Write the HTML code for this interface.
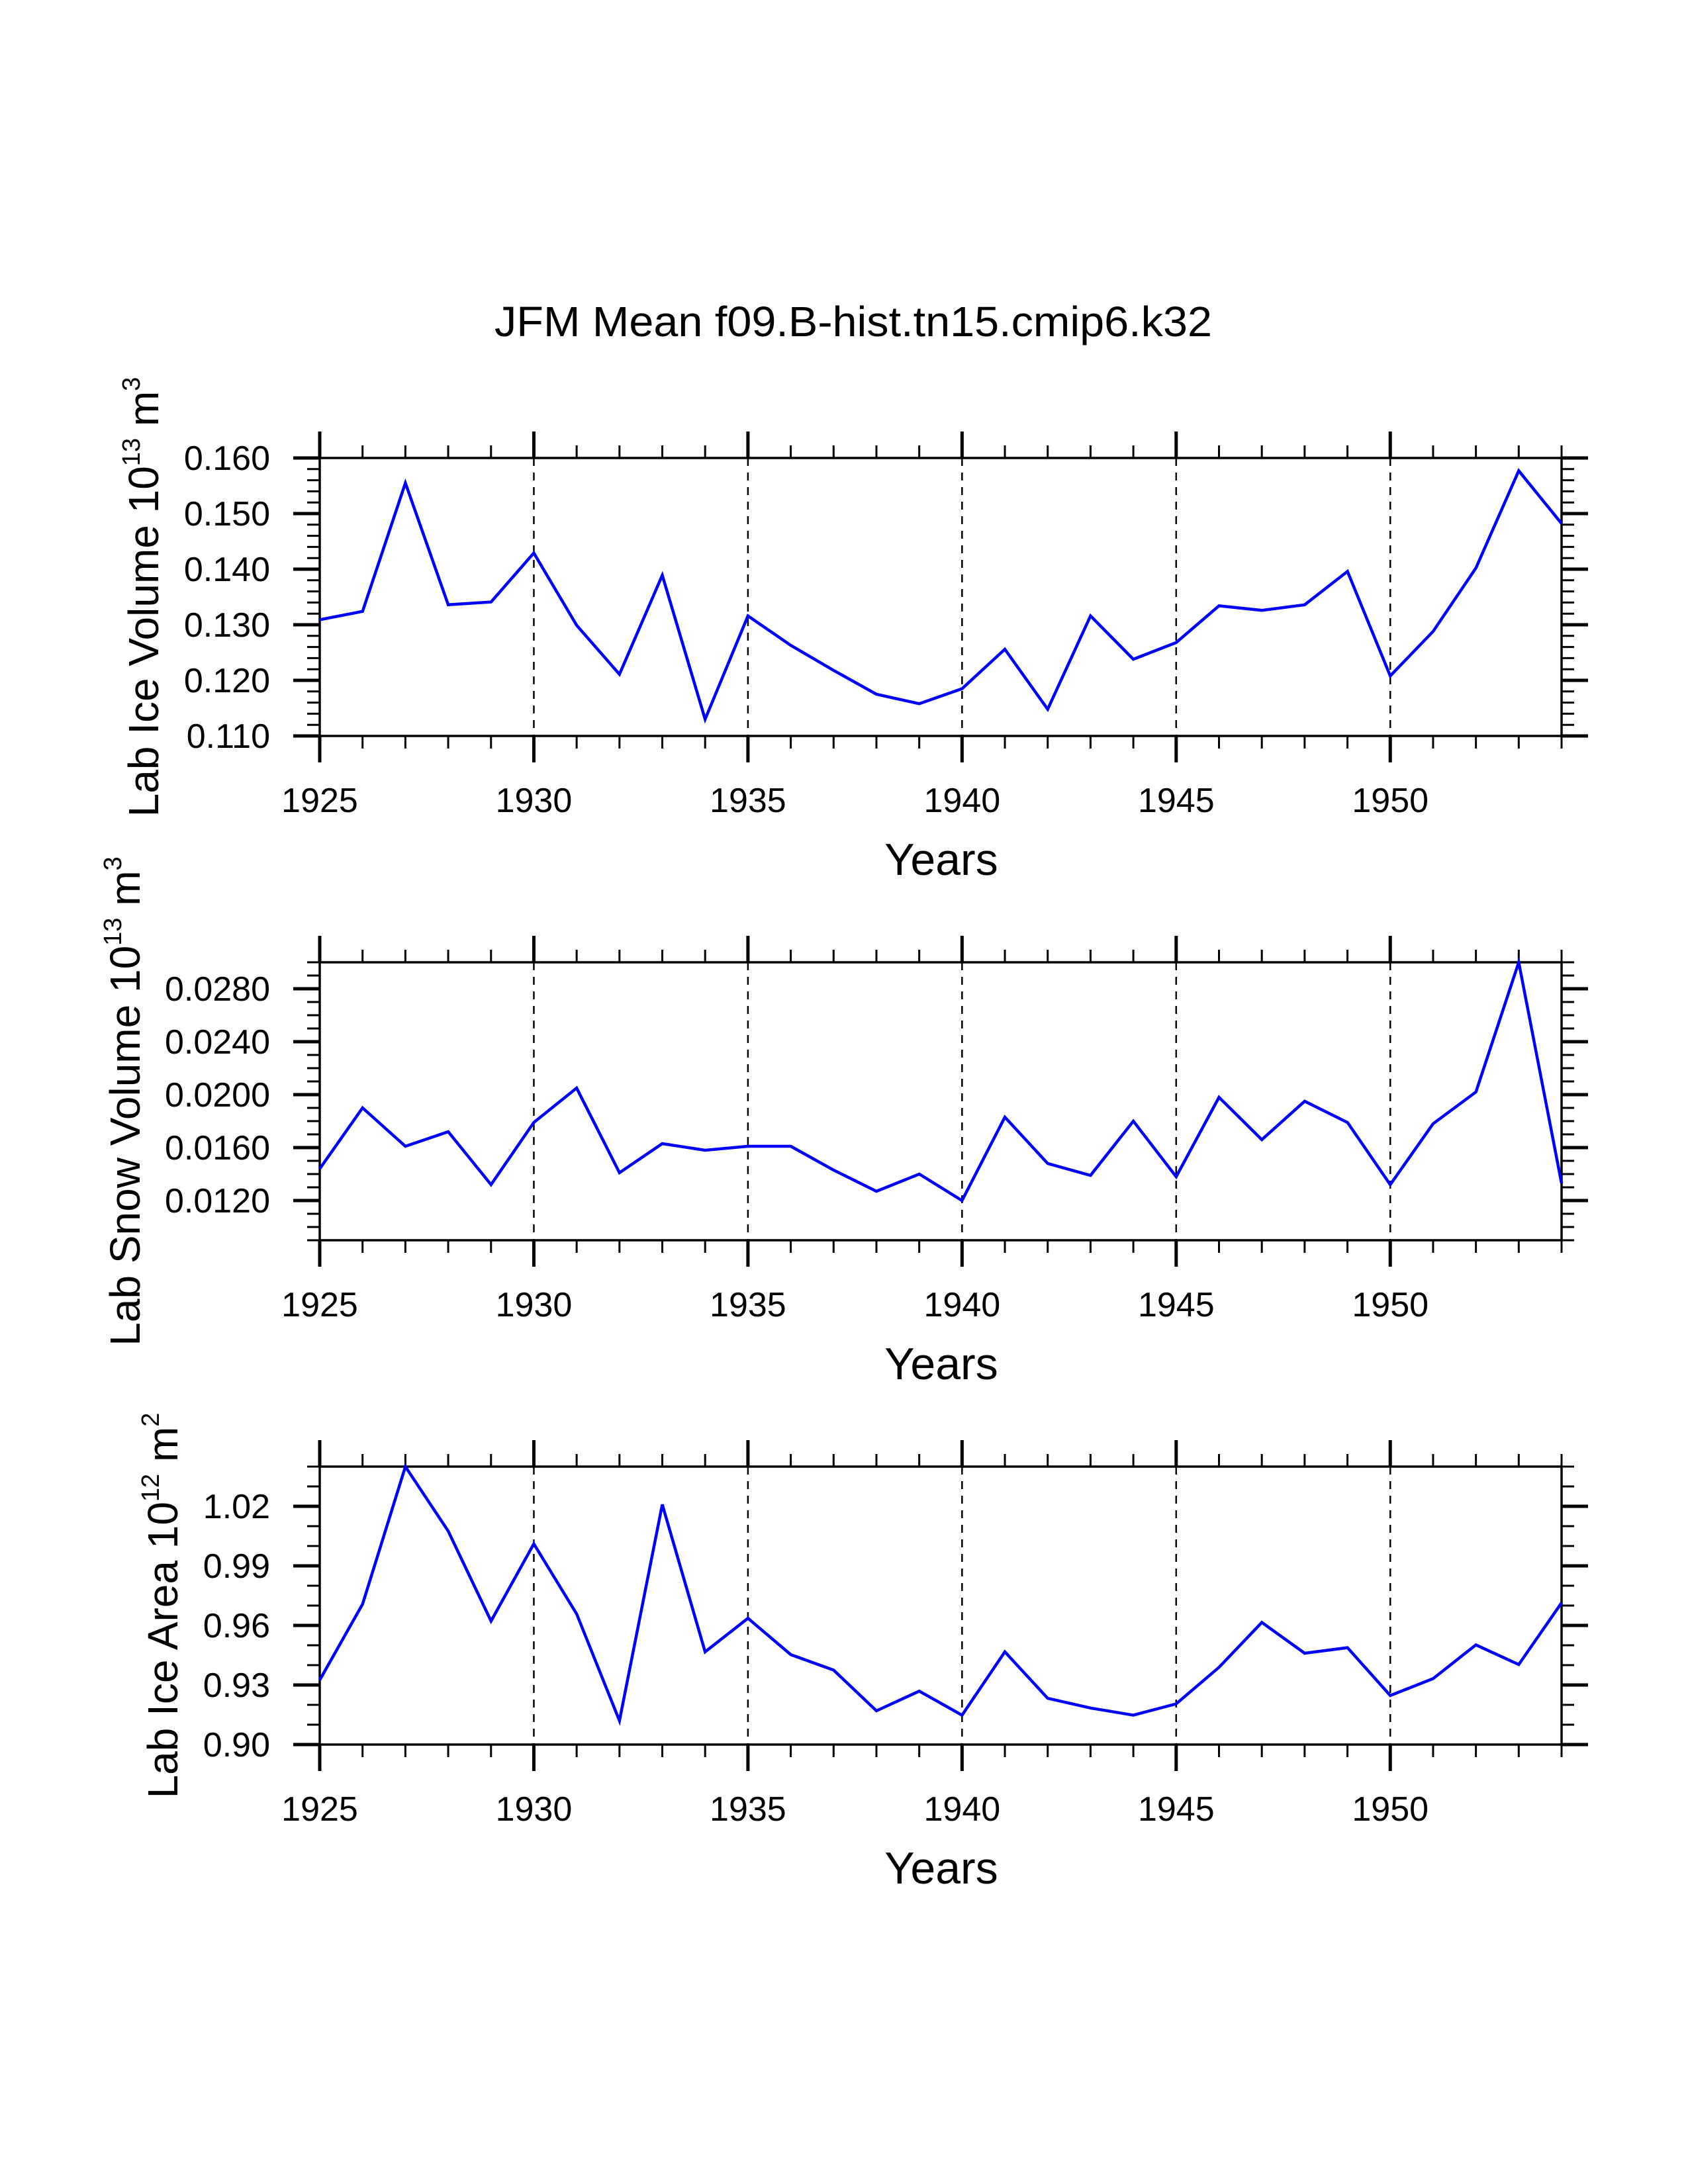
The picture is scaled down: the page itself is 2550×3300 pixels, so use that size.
<!DOCTYPE html>
<html><head><meta charset="utf-8"><style>
html,body{margin:0;padding:0;background:#fff;}
svg{display:block;font-family:"Liberation Sans",Arial,sans-serif;}
</style></head>
<body>
<svg id="fig" width="2550" height="3300" viewBox="0 0 2550 3300" xmlns="http://www.w3.org/2000/svg">
<rect width="2550" height="3300" fill="#fff"/>
<text x="1289" y="508" font-size="64" text-anchor="middle" textLength="1084" lengthAdjust="spacingAndGlyphs">JFM Mean f09.B-hist.tn15.cmip6.k32</text>
</svg>
<script>
const years = [1925,1926,1927,1928,1929,1930,1931,1932,1933,1934,1935,1936,1937,1938,1939,1940,1941,1942,1943,1944,1945,1946,1947,1948,1949,1950,1951,1952,1953,1954];
const iceVolume = [0.1309,0.1324,0.1555,0.1336,0.1341,0.1429,0.1299,0.1211,0.1389,0.1130,0.1316,0.1263,0.1218,0.1175,0.1158,0.1185,0.1256,0.1148,0.1316,0.1238,0.1268,0.1334,0.1326,0.1336,0.1396,0.1208,0.1288,0.1402,0.1577,0.1482];
const snowVolume = [0.0144,0.0190,0.0161,0.0172,0.0132,0.0179,0.0205,0.0141,0.0163,0.0158,0.0161,0.0161,0.0143,0.0127,0.0140,0.0120,0.0183,0.0148,0.0139,0.0180,0.0138,0.0198,0.0166,0.0195,0.0179,0.0132,0.0178,0.0202,0.0300,0.0133];
const iceArea = [0.9325,0.9707,1.040,1.0075,0.9622,1.0011,0.9658,0.9120,1.0209,0.9467,0.9636,0.9453,0.9375,0.9170,0.9269,0.9148,0.9467,0.9233,0.9184,0.9148,0.9205,0.9389,0.9615,0.9460,0.9488,0.9247,0.9332,0.9502,0.9403,0.9714];
const xTickLabels = ["1925","1930","1935","1940","1945","1950"];
const iceVolTicks = ["0.110","0.120","0.130","0.140","0.150","0.160"];
const snowVolTicks = ["0.0120","0.0160","0.0200","0.0240","0.0280"];
const iceAreaTicks = ["0.90","0.93","0.96","0.99","1.02"];

const NS="http://www.w3.org/2000/svg";
const svg=document.getElementById('fig');
function mk(tag,attrs,parent){const e=document.createElementNS(NS,tag);for(const k in attrs)e.setAttribute(k,attrs[k]);(parent||svg).appendChild(e);return e;}

const L=483,R=2359,H=420;
const panels=[
 {name:'ice-volume',top:692,vals:iceVolume,ticks:iceVolTicks,ymin:0.110,ymax:0.160,minor:0.002,label:['Lab Ice Volume 10','13',' m','3']},
 {name:'snow-volume',top:1454,vals:snowVolume,ticks:snowVolTicks,ymin:0.009,ymax:0.030,minor:0.001,label:['Lab Snow Volume 10','13',' m','3']},
 {name:'ice-area',top:2216,vals:iceArea,ticks:iceAreaTicks,ymin:0.90,ymax:1.04,minor:0.01,label:['Lab Ice Area 10','12',' m','2']}
];
const x0=years[0],x1=years[years.length-1];
function xs(v){return L+(v-x0)/(x1-x0)*(R-L);}

panels.forEach((p,pi)=>{
 const T=p.top,B=T+H;
 const ys=v=>B-(v-p.ymin)/(p.ymax-p.ymin)*H;
 const g=mk('g',{});
 
 
 xTickLabels.forEach(t=>{const v=+t;if(v===x0)return;
  const l=mk('line',{x1:xs(v),x2:xs(v),y1:T,y2:B,stroke:'#000','stroke-width':2.5,'stroke-dasharray':'12 10'},g);
  
  
 });
 for(let y=x0;y<=x1;y++){
  const maj=(y%5===0);const len=maj?40:19;const sw=maj?5:3;
  mk('line',{x1:xs(y),x2:xs(y),y1:B,y2:B+len,stroke:'#000','stroke-width':sw},g);
  mk('line',{x1:xs(y),x2:xs(y),y1:T,y2:T-len,stroke:'#000','stroke-width':sw},g);
 }
 xTickLabels.forEach(t=>{
  const tx=mk('text',{x:xs(+t),y:B+115,'font-size':52,'text-anchor':'middle'},g);tx.textContent=t;
  
  
 });
 const n=Math.round((p.ymax-p.ymin)/p.minor);
 const majSet=p.ticks.map(t=>+t);
 for(let i=0;i<=n;i++){
  const v=p.ymin+i*p.minor;const maj=majSet.some(m=>Math.abs(m-v)<p.minor/10);
  const len=maj?40:19;const sw=maj?5:3;const yy=ys(v);
  mk('line',{x1:L,x2:L-len,y1:yy,y2:yy,stroke:'#000','stroke-width':sw},g);
  mk('line',{x1:R,x2:R+len,y1:yy,y2:yy,stroke:'#000','stroke-width':sw},g);
 }
 p.ticks.forEach(t=>{
  const tx=mk('text',{x:408,y:ys(+t)+18,'font-size':52,'text-anchor':'end'},g);tx.textContent=t;
  
  
 });
 const fr=mk('rect',{x:L,y:T,width:R-L,height:H,fill:'none',stroke:'#000','stroke-width':3.5},g);
 
 
 const pts=p.vals.map((v,i)=>xs(years[i]).toFixed(1)+','+ys(v).toFixed(1)).join(' ');
 const pl=mk('polyline',{points:pts,fill:'none',stroke:'#0000ff','stroke-width':4.5,'stroke-linejoin':'miter'},g);
 
 
 const xt=mk('text',{x:1422,y:B+210,'font-size':68,'text-anchor':'middle'},g);xt.textContent='Years';
 
 
 const cx=[239,211,268][pi];const cy=T+H/2;
 const yt=mk('text',{x:cx,y:cy,'font-size':64,'text-anchor':'middle',transform:`rotate(-90 ${cx} ${cy})`},g);
 
 
 const s1=mk('tspan',{},yt);s1.textContent=p.label[0];
 const s2=mk('tspan',{'font-size':38,dy:-28},yt);s2.textContent=p.label[1];
 const s3=mk('tspan',{dy:28},yt);s3.textContent=p.label[2];
 const s4=mk('tspan',{'font-size':38,dy:-28},yt);s4.textContent=p.label[3];
});
</script>
</body></html>
